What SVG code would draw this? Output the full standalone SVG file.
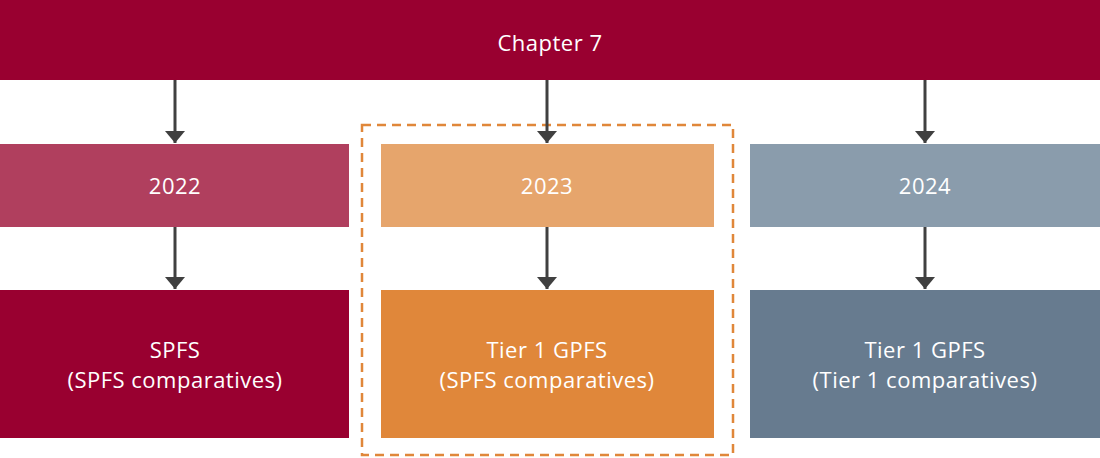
<svg xmlns="http://www.w3.org/2000/svg" width="1100" height="458" viewBox="0 0 1100 458">
<defs>
<style>
.t{font-family:"Open Sans",Lato,"Liberation Sans",sans-serif;font-size:22px;letter-spacing:0.5px;fill:#ffffff;text-anchor:middle}
.c{stroke:#404040;stroke-width:3;fill:none}
</style>
<marker id="ah" markerUnits="userSpaceOnUse" markerWidth="12" markerHeight="20" refX="12" refY="10" viewBox="0 0 12 20" orient="auto">
<path d="M0,0 L12,10 L0,20 Z" fill="#404040"/>
</marker>
</defs>
<rect width="1100" height="458" fill="#ffffff"/>
<g id="dashed-frame"><rect x="362" y="125" width="371" height="330" fill="none" stroke="#E0873A" stroke-width="2.5" stroke-dasharray="9,6"/></g>
<g id="chapter7"><rect x="0" y="0" width="1100" height="80" fill="#990030"/><text class="t" x="550" y="51">Chapter 7</text></g>
<g id="y2022"><rect x="0" y="144" width="349" height="83" fill="#B03F5E"/><text class="t" x="175" y="194">2022</text></g>
<g id="y2023"><rect x="381" y="144" width="333" height="83" fill="#E6A56C"/><text class="t" x="547" y="194">2023</text></g>
<g id="y2024"><rect x="750" y="144" width="350" height="83" fill="#8A9CAC"/><text class="t" x="925" y="194">2024</text></g>
<g id="spfs"><rect x="0" y="290" width="349" height="148" fill="#990030"/><text class="t" x="175" y="358">SPFS</text><text class="t" x="175" y="388">(SPFS comparatives)</text></g>
<g id="tier1-2023"><rect x="381" y="290" width="333" height="148" fill="#E0873A"/><text class="t" x="547" y="358">Tier 1 GPFS</text><text class="t" x="547" y="388">(SPFS comparatives)</text></g>
<g id="tier1-2024"><rect x="750" y="290" width="350" height="148" fill="#677B8F"/><text class="t" x="925" y="358">Tier 1 GPFS</text><text class="t" x="925" y="388">(Tier 1 comparatives)</text></g>
<g id="connectors">
<line class="c" x1="175" y1="80" x2="175" y2="143" marker-end="url(#ah)"/>
<line class="c" x1="547" y1="80" x2="547" y2="143" marker-end="url(#ah)"/>
<line class="c" x1="925" y1="80" x2="925" y2="143" marker-end="url(#ah)"/>
<line class="c" x1="175" y1="227" x2="175" y2="289" marker-end="url(#ah)"/>
<line class="c" x1="547" y1="227" x2="547" y2="289" marker-end="url(#ah)"/>
<line class="c" x1="925" y1="227" x2="925" y2="289" marker-end="url(#ah)"/>
</g>
</svg>
